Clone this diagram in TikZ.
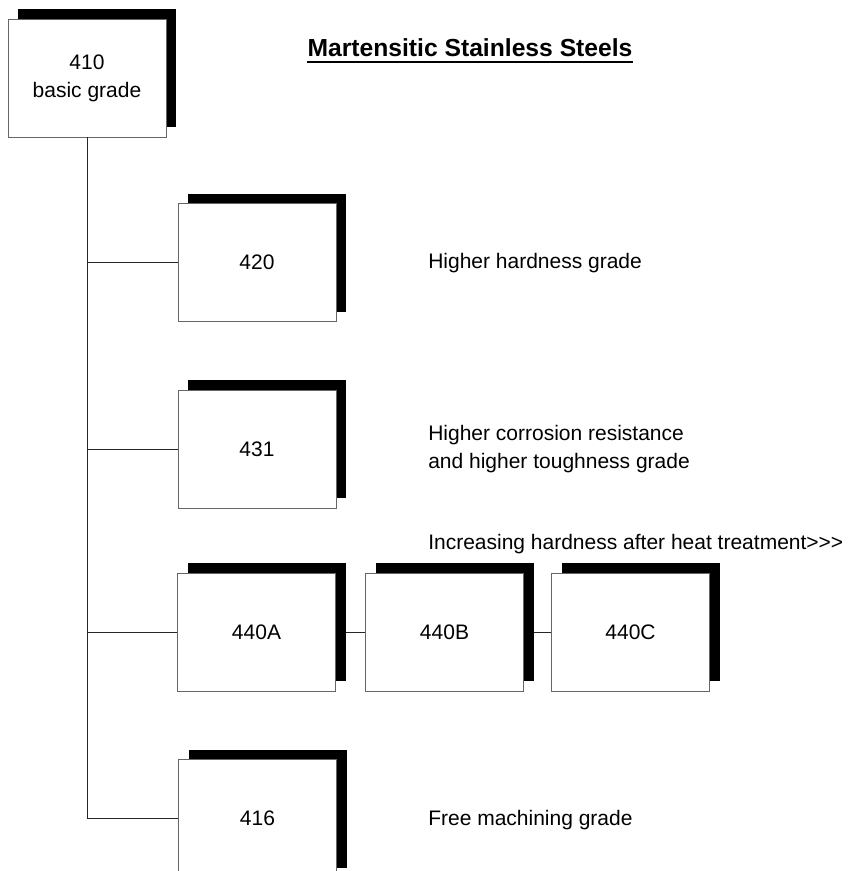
\documentclass[tikz,border=0pt]{standalone}
\usepackage{fontspec}
\setmainfont{Liberation Sans}
\usetikzlibrary{shadows}
\begin{document}
\begin{tikzpicture}[x=0.75pt,y=-0.75pt,
  gradebox/.style={draw=black!60, line width=0.6pt, fill=white,
    minimum width=118.5pt, minimum height=88.5pt, inner sep=0pt,
    align=center, font=\fontsize{15.75}{21}\selectfont,
    general shadow={fill=black, shadow xshift=7.5pt, shadow yshift=7.5pt}},
  link/.style={draw=black!85, line width=0.6pt},
  note/.style={anchor=west, inner sep=0pt, align=left,
    font=\fontsize{15.75}{20.5}\selectfont},
  heading/.style={inner sep=0pt, font=\fontsize{18.5}{22}\selectfont\bfseries}]
\clip (0,0) rectangle (854,871);
\fill[white] (0,0) rectangle (854,871);

\node[gradebox] (b410) at (87,78) {410\\basic grade};
\node[gradebox] (b420) at (257,262.5) {420};
\node[gradebox] (b431) at (257,449) {431};
\node[gradebox] (b440A) at (256.5,632) {440A};
\node[gradebox] (b440B) at (444.5,632) {440B};
\node[gradebox] (b440C) at (630.5,632) {440C};
\node[gradebox] (b416) at (257.5,818.5) {416};

\node[heading] (title) at (470,48) {Martensitic Stainless Steels};
\draw[line width=1.6pt] ([yshift=-3.9pt]title.base west) -- ([yshift=-3.9pt]title.base east);

\node[note] (n420) at (428,263) {Higher hardness grade};
\node[note] (n431) at (428,449) {Higher corrosion resistance\\and higher toughness grade};
\node[note] (n440) at (428,544) {Increasing hardness after heat treatment>{}>{}>};
\node[note] (n416) at (428,820) {Free machining grade};

\coordinate (j420) at (b410.south |- b420.west);
\coordinate (j431) at (b410.south |- b431.west);
\coordinate (j440) at (b410.south |- b440A.west);
\coordinate (j416) at (b410.south |- b416.west);
\draw[link] (b410.south) -- (j416) -- (b416.west);
\draw[link] (j420) -- (b420.west);
\draw[link] (j431) -- (b431.west);
\draw[link] (j440) -- (b440A.west);
\draw[link] ([xshift=7.5pt]b440A.east) -- (b440B.west);
\draw[link] ([xshift=7.5pt]b440B.east) -- (b440C.west);
\end{tikzpicture}
\end{document}
